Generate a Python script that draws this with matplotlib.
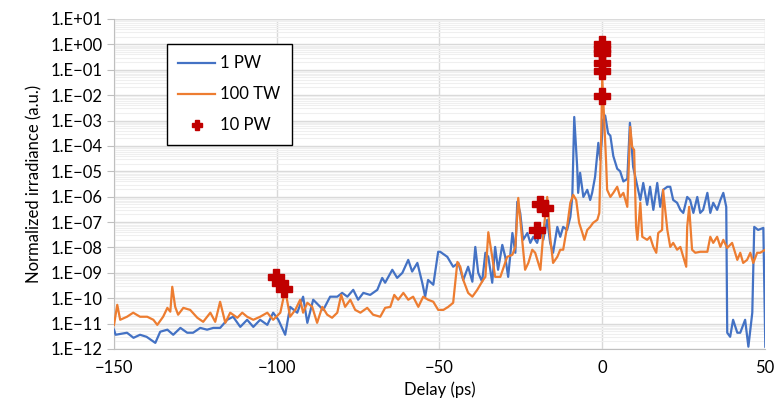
import numpy as np
import matplotlib
matplotlib.use("Agg")
import matplotlib.pyplot as plt
from matplotlib.ticker import FixedLocator, FuncFormatter, LogLocator, NullFormatter

# ---------------- data ----------------
# delay in ps, irradiance given as log10 exponent
blue_x = [-150, -149.5, -146, -144, -142, -140, -137.3, -135.8, -133.6, -131.8, -129.6, -127.5,
          -125.7, -123.5, -121.4, -119.5, -117.4, -115.2, -113.4, -111.2, -109.1, -107.2,
          -105.1, -102.9, -101.1, -99.5, -97.4, -95.9, -93.7, -91.9, -90.6, -88.8, -86.6,
          -85.7, -83.6, -81.4, -79.9, -78.3, -76.5, -75.0, -73.4, -71.3, -69.1, -67.6,
          -66.7, -64.5, -63.0, -61.4, -59.6, -58.4, -56.8, -55.3, -54.4, -53.5, -51.9,
          -50.4, -49.8, -47.6, -45.8, -44.2, -42.7, -41.2, -39.9, -39.0, -38.1, -36.9,
          -35.9, -35.0, -33.8, -32.9, -32.0, -30.7, -29.8, -28.9, -27.6, -26.7, -26.1,
          -25.2, -24.3, -23.0, -22.1, -21.2, -20.0, -19.0, -18.1, -16.9, -16.0, -15.1,
          -13.8, -12.9, -12.0, -10.8, -9.8, -9.2, -8.6, -7.7, -7.4, -6.8, -5.8, -4.6,
          -3.7, -3.1, -2.2, -1.2, -0.6, 0.3, 0.9, 1.8, 2.5, 3.4, 4.6, 5.5, 6.5, 7.7,
          8.5, 9.5, 10.8, 11.7, 12.6, 13.8, 14.7, 15.7, 16.9, 17.8, 18.7, 20.0, 20.9,
          21.8, 23.0, 24.0, 24.9, 26.1, 27.0, 28.0, 29.2, 30.1, 31.0, 32.3, 33.2, 34.1,
          35.3, 36.3, 37.2, 38.1, 38.4, 39.3, 40.2, 41.5, 42.4, 43.9, 44.9, 46.1, 46.7,
          47.9, 49.5, 50.1]
blue_log10 = [-11.24, -11.44, -11.36, -11.56, -11.44, -11.52, -11.76, -11.32, -11.24, -11.44,
              -11.17, -11.36, -11.36, -11.17, -11.24, -11.17, -11.17, -10.85, -10.73, -11.13,
              -10.85, -11.13, -10.85, -11.05, -10.57, -10.85, -11.44, -10.34, -10.57, -9.94,
              -10.97, -10.06, -10.34, -10.46, -9.94, -9.94, -9.79, -9.94, -9.67, -10.06,
              -9.79, -9.87, -9.67, -9.20, -9.39, -8.88, -9.20, -9.00, -8.49, -8.95, -8.61,
              -9.39, -9.94, -9.28, -9.47, -8.17, -8.17, -8.37, -8.76, -8.61, -9.28, -8.76,
              -9.35, -7.98, -9.00, -9.35, -8.21, -8.37, -9.39, -7.98, -8.88, -7.90, -8.37,
              -9.16, -7.43, -8.21, -6.20, -6.64, -7.70, -7.43, -7.82, -7.58, -7.82, -7.31,
              -7.70, -6.91, -7.82, -8.21, -7.19, -7.58, -7.19, -7.31, -6.80, -6.01, -2.86,
              -4.83, -5.85, -5.06, -6.01, -5.73, -6.13, -5.85, -5.22, -3.88, -4.55, -2.98,
              -2.80, -3.50, -3.60, -4.40, -4.90, -5.00, -5.40, -5.30, -3.09, -4.83, -5.61,
              -6.13, -5.46, -6.32, -5.61, -6.52, -5.46, -6.40, -5.73, -5.61, -5.61, -6.13,
              -6.24, -6.52, -6.64, -6.01, -6.13, -6.64, -6.01, -6.64, -6.52, -5.85, -6.64,
              -6.24, -6.52, -6.13, -5.85, -6.40, -11.36, -11.52, -10.85, -11.36, -11.36,
              -10.85, -11.91, -10.57, -7.19, -7.31, -7.23, -11.91]

orange_x = [-150, -149, -148.1, -146, -144.1, -142, -139.8, -137.9, -136.7, -134.9, -133.6,
            -132.7, -132.1, -131.2, -130.3, -128.7, -126.6, -124.4, -122.6, -120.4, -118.9,
            -117.4, -115.8, -114.3, -112.1, -110.6, -109.1, -107.2, -105.1, -102.9, -101.1,
            -98.9, -97.4, -95.9, -94.3, -92.8, -91.9, -90.6, -89.1, -87.6, -86.0, -84.5,
            -83.0, -81.4, -80.2, -79.0, -77.4, -75.9, -74.3, -72.2, -70.4, -68.2, -66.7,
            -65.1, -63.9, -62.7, -61.1, -59.6, -58.1, -56.5, -55.0, -53.5, -51.9, -50.4,
            -48.8, -47.3, -45.8, -44.5, -43.6, -42.7, -41.2, -39.9, -38.4, -36.6, -35.9,
            -35.0, -33.8, -32.9, -31.3, -29.2, -27.6, -26.7, -25.8, -24.6, -23.7, -22.7,
            -21.5, -20.6, -19.0, -18.1, -16.9, -16.0, -15.1, -13.8, -12.9, -12.0, -10.8,
            -9.8, -8.9, -8.0, -7.1, -6.1, -5.5, -4.6, -3.7, -2.8, -1.5, -0.9, -0.3, 0.0,
            0.6, 1.2, 1.5, 2.5, 3.4, 4.6, 5.5, 6.5, 7.7, 8.6, 9.2, 9.8, 10.4, 10.8, 11.7,
            12.3, 13.8, 14.7, 15.7, 16.6, 17.2, 18.4, 18.7, 20.0, 20.9, 21.8, 23.0, 24.0,
            24.9, 25.8, 26.1, 26.7, 27.6, 28.6, 30.1, 32.3, 33.2, 34.1, 35.3, 36.3, 37.2,
            38.4, 39.9, 41.5, 42.4, 43.3, 44.5, 45.5, 46.4, 47.6, 48.5, 50.1]
orange_log10 = [-11.05, -10.26, -10.85, -10.73, -10.57, -10.73, -10.73, -10.85, -11.05, -10.73,
                -10.38, -10.53, -9.55, -10.34, -10.65, -10.38, -10.46, -10.77, -10.93, -10.57,
                -10.93, -10.14, -10.97, -10.57, -10.77, -10.57, -10.73, -10.85, -10.73, -10.57,
                -10.85, -10.57, -9.67, -10.73, -10.46, -10.06, -10.57, -10.18, -10.34, -10.97,
                -10.34, -10.65, -10.77, -10.57, -9.87, -10.34, -10.06, -10.46, -10.57, -10.38,
                -10.65, -10.73, -10.38, -10.34, -9.87, -10.06, -9.79, -10.06, -9.94, -10.34,
                -9.94, -10.06, -10.14, -10.46, -10.46, -10.34, -10.18, -8.57, -8.76, -9.28,
                -9.79, -9.94, -9.67, -9.28, -9.16, -7.40, -8.37, -9.16, -9.16, -8.37, -8.29,
                -7.98, -6.05, -7.70, -8.88, -8.61, -8.09, -8.21, -8.88, -7.43, -6.01, -7.60,
                -8.61, -8.37, -8.09, -8.09, -7.19, -6.24, -5.93, -6.13, -7.03, -7.43, -7.70,
                -7.31, -7.19, -7.03, -6.91, -6.64, -3.49, -1.30, -2.98, -4.67, -5.73, -6.01,
                -5.85, -5.61, -6.01, -5.85, -6.40, -3.25, -4.04, -4.16, -7.19, -7.70, -6.24,
                -7.58, -7.70, -7.58, -7.98, -8.21, -7.43, -7.31, -5.73, -7.31, -7.98, -7.82,
                -8.09, -7.98, -8.37, -8.76, -7.19, -6.40, -8.09, -8.21, -8.17, -8.17, -7.58,
                -7.82, -7.58, -7.98, -7.70, -8.02, -7.82, -8.49, -8.21, -8.61, -8.49, -8.21,
                -8.61, -8.21, -8.21, -8.09]

red_x = [-100.3, -99.0, -97.7, -19.0, -17.6, -20.0, 0.0, 0.0, 0.0, 0.0, 0.0, 0.0]
red_log10 = [-9.15, -9.40, -9.62, -6.28, -6.45, -7.30, 0.0, -0.2, -0.35, -0.75, -1.05, -2.05]

series_labels = ["1 PW", "100 TW", "10 PW"]
x_ticks = [-150, -100, -50, 0, 50]
y_exponents = list(range(-12, 2))

# ---------------- plotting ----------------
FONT = "Lato"
plt.rcParams["font.family"] = [FONT, "DejaVu Sans"]

fig = plt.figure(figsize=(7.76, 4.11), dpi=100)
ax = fig.add_axes([0.1469, 0.1509, 0.8389, 0.8029])

blue_y = 10.0 ** np.array(blue_log10)
orange_y = 10.0 ** np.array(orange_log10)
red_y = 10.0 ** np.array(red_log10)

ax.plot(blue_x, blue_y, color="#4472C4", lw=1.6, label=series_labels[0], zorder=3)
ax.plot(orange_x, orange_y, color="#ED7D31", lw=1.6, label=series_labels[1], zorder=4)
ax.plot(red_x, red_y, linestyle="none", marker="P", markersize=11,
        color="#C00000", markeredgecolor="#C00000", label=series_labels[2], zorder=5)

ax.set_yscale("log")
ax.set_xlim(-150, 50)
ax.set_ylim(1e-12, 1e1)

ax.xaxis.set_major_locator(FixedLocator(x_ticks))
ax.xaxis.set_major_formatter(FuncFormatter(lambda v, p: f"{int(v)}".replace("-", "\u2212")))

ax.yaxis.set_major_locator(FixedLocator([10.0 ** e for e in y_exponents]))

def yfmt(v, p):
    e = int(round(np.log10(v)))
    sign = "+" if e >= 0 else "\u2212"
    return f"1.E{sign}{abs(e):02d}"

ax.yaxis.set_major_formatter(FuncFormatter(yfmt))
ax.yaxis.set_minor_locator(LogLocator(base=10, subs=np.arange(2, 10), numticks=100))
ax.yaxis.set_minor_formatter(NullFormatter())

ax.grid(True, which="major", axis="both", color="#D9D9D9", lw=1.0, zorder=0)
ax.grid(True, which="minor", axis="y", color="#EFEFEF", lw=0.8, zorder=0)
ax.set_axisbelow(True)

for s in ["top", "right"]:
    ax.spines[s].set_visible(False)
ax.spines["left"].set_color("#BFBFBF")
ax.spines["bottom"].set_color("#BFBFBF")
ax.tick_params(axis="y", which="major", length=5, color="#BFBFBF", labelsize=12, pad=3,
               labelcolor="black")
ax.tick_params(axis="y", which="minor", length=0)
ax.tick_params(axis="x", which="major", length=0, labelsize=12, pad=8, labelcolor="black")

ax.set_xlabel("Delay (ps)", fontsize=12, labelpad=4)
ax.set_ylabel("Normalized irradiance (a.u.)", fontsize=12, labelpad=6)

leg = ax.legend(loc="upper left", bbox_to_anchor=(0.081, 0.925), borderaxespad=0,
                fontsize=12, frameon=True, fancybox=False, edgecolor="black",
                handlelength=2.2, handletextpad=0.3, labelspacing=0.9, borderpad=0.7,
                markerscale=0.7)
leg.get_frame().set_linewidth(1.0)
leg.get_frame().set_alpha(1)

fig.savefig("out.png", dpi=100)
